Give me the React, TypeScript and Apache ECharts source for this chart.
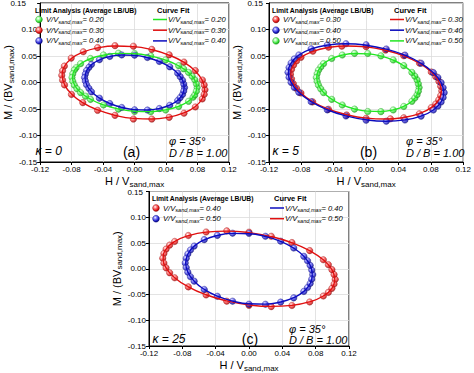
import React, { useEffect, useRef } from "react";
import * as echarts from "echarts";

const FONT = "Arial, 'Liberation Sans', sans-serif";

const X_TICKS = [-0.12, -0.08, -0.04, 0, 0.04, 0.08, 0.12];
const Y_TICKS = [-0.15, -0.1, -0.05, 0, 0.05, 0.1, 0.15];

// ---------- data: panel (a) kappa = 0 ----------
const A_RED_PTS = [[0.0895,-0.0136],[0.0885,-0.0046],[0.0862,0.0048],[0.0772,0.0225],[0.0628,0.0385],[0.0440,0.0522],[0.0219,0.0625],[-0.0015,0.0685],[-0.0249,0.0695],[-0.0470,0.0658],[-0.0652,0.0580],[-0.0805,0.0460],[-0.0892,0.0310],[-0.0915,0.0222],[-0.0925,0.0136],[-0.0915,0.0046],[-0.0890,-0.0046],[-0.0802,-0.0225],[-0.0658,-0.0380],[-0.0470,-0.0525],[-0.0249,-0.0620],[-0.0015,-0.0690],[0.0219,-0.0690],[0.0440,-0.0658],[0.0628,-0.0580],[0.0772,-0.0462],[0.0860,-0.0310],[0.0885,-0.0224]];
const A_RED_FIT = [[0.089,-0.0136],[0.0859,0.0044],[0.0769,0.0221],[0.0625,0.0383],[0.0438,0.0518],[0.0219,0.0619],[-0.0015,0.0677],[-0.0249,0.0689],[-0.0468,0.0654],[-0.0655,0.0575],[-0.0799,0.0457],[-0.0889,0.0306],[-0.092,0.0136],[-0.0889,-0.0044],[-0.0799,-0.0221],[-0.0655,-0.0383],[-0.0468,-0.0518],[-0.0249,-0.0619],[-0.0015,-0.0677],[0.0219,-0.0689],[0.0438,-0.0654],[0.0625,-0.0575],[0.0769,-0.0457],[0.0859,-0.0306],[0.089,-0.0136]];
const A_GREEN_PTS = [[0.0795,-0.0095],[0.0785,-0.0023],[0.0765,0.0050],[0.0732,0.0118],[0.0686,0.0190],[0.0623,0.0258],[0.0560,0.0318],[0.0395,0.0425],[0.0205,0.0502],[0,0.0548],[-0.0205,0.0552],[-0.0395,0.0520],[-0.0560,0.0452],[-0.0686,0.0355],[-0.0743,0.0278],[-0.0765,0.0235],[-0.0785,0.0165],[-0.0795,0.0095],[-0.0785,0.0023],[-0.0765,-0.0050],[-0.0732,-0.0118],[-0.0686,-0.0190],[-0.0623,-0.0258],[-0.0560,-0.0318],[-0.0395,-0.0425],[-0.0205,-0.0502],[0,-0.0548],[0.0205,-0.0552],[0.0395,-0.0520],[0.0560,-0.0452],[0.0686,-0.0355],[0.0743,-0.0278],[0.0765,-0.0235],[0.0785,-0.0165]];
const A_GREEN_FIT = [[0.079,-0.0095],[0.0763,0.0048],[0.0684,0.0189],[0.0559,0.0316],[0.0395,0.0422],[0.0205,0.0499],[0,0.0542],[-0.0205,0.0549],[-0.0395,0.0516],[-0.0559,0.045],[-0.0684,0.0353],[-0.0763,0.0232],[-0.079,0.0095],[-0.0763,-0.0048],[-0.0684,-0.0189],[-0.0559,-0.0316],[-0.0395,-0.0422],[-0.0205,-0.0499],[0,-0.0542],[0.0205,-0.0549],[0.0395,-0.0516],[0.0559,-0.045],[0.0684,-0.0353],[0.0763,-0.0232],[0.079,-0.0095]];
const A_BLUE_PTS = [[0.0635,-0.0095],[0.0625,-0.0028],[0.0610,0.0042],[0.0580,0.0110],[0.0548,0.0176],[0.0447,0.0296],[0.0315,0.0398],[0.0163,0.0472],[0,0.0515],[-0.0163,0.0520],[-0.0315,0.0492],[-0.0447,0.0430],[-0.0548,0.0340],[-0.0580,0.0285],[-0.0610,0.0225],[-0.0625,0.0160],[-0.0635,0.0095],[-0.0625,0.0028],[-0.0610,-0.0042],[-0.0580,-0.0110],[-0.0548,-0.0176],[-0.0447,-0.0296],[-0.0315,-0.0398],[-0.0163,-0.0472],[0,-0.0515],[0.0163,-0.0520],[0.0315,-0.0492],[0.0447,-0.0430],[0.0548,-0.0340],[0.0580,-0.0285],[0.0610,-0.0225],[0.0625,-0.0160]];
const A_BLUE_FIT = [[0.063,-0.0095],[0.0609,0.0041],[0.0546,0.0174],[0.0445,0.0294],[0.0315,0.0396],[0.0163,0.047],[0,0.0511],[-0.0163,0.0518],[-0.0315,0.049],[-0.0445,0.0428],[-0.0546,0.0338],[-0.0609,0.0223],[-0.063,0.0095],[-0.0609,-0.0041],[-0.0546,-0.0174],[-0.0445,-0.0294],[-0.0315,-0.0396],[-0.0163,-0.047],[0,-0.0511],[0.0163,-0.0518],[0.0315,-0.049],[0.0445,-0.0428],[0.0546,-0.0338],[0.0609,-0.0223],[0.063,-0.0095]];

// ---------- data: panel (b) kappa = 5 ----------
const B_RED_PTS = [[0.0935,-0.0158],[0.0922,-0.0070],[0.0900,0.0021],[0.0860,0.0110],[0.0805,0.0199],[0.0660,0.0365],[0.0465,0.0505],[0.0241,0.0612],[0,0.0676],[-0.0300,0.0685],[-0.0465,0.0665],[-0.0658,0.0590],[-0.0805,0.0475],[-0.0860,0.0405],[-0.0898,0.0327],[-0.0922,0.0245],[-0.0935,0.0158],[-0.0922,0.0070],[-0.0900,-0.0021],[-0.0860,-0.0110],[-0.0805,-0.0199],[-0.0660,-0.0365],[-0.0465,-0.0505],[-0.0241,-0.0612],[0,-0.0676],[0.0300,-0.0685],[0.0465,-0.0665],[0.0658,-0.0590],[0.0805,-0.0475],[0.0860,-0.0405],[0.0898,-0.0327],[0.0922,-0.0245]];
const B_RED_FIT = [[0.093,-0.0158],[0.0898,0.0021],[0.0805,0.0199],[0.0658,0.0363],[0.0465,0.0503],[0.0241,0.0608],[0,0.0672],[-0.0241,0.069],[-0.0465,0.0661],[-0.0658,0.0587],[-0.0805,0.0473],[-0.0898,0.0327],[-0.093,0.0158],[-0.0898,-0.0021],[-0.0805,-0.0199],[-0.0658,-0.0363],[-0.0465,-0.0503],[-0.0241,-0.0608],[0,-0.0672],[0.0241,-0.069],[0.0465,-0.0661],[0.0658,-0.0587],[0.0805,-0.0473],[0.0898,-0.0327],[0.093,-0.0158]];
const B_BLUE_PTS = [[0.0965,-0.0192],[0.0952,-0.0098],[0.0927,-0.0003],[0.0887,0.0095],[0.0831,0.0186],[0.0679,0.0364],[0.0480,0.0516],[0.0249,0.0632],[0,0.0712],[-0.0249,0.0732],[-0.0480,0.0708],[-0.0679,0.0636],[-0.0831,0.0520],[-0.0887,0.0445],[-0.0927,0.0367],[-0.0952,0.0282],[-0.0965,0.0192],[-0.0952,0.0098],[-0.0927,0.0003],[-0.0887,-0.0095],[-0.0831,-0.0186],[-0.0679,-0.0364],[-0.0480,-0.0516],[-0.0249,-0.0632],[0,-0.0712],[0.0249,-0.0732],[0.0480,-0.0708],[0.0679,-0.0636],[0.0831,-0.0520],[0.0887,-0.0445],[0.0927,-0.0367],[0.0952,-0.0282]];
const B_BLUE_FIT = [[0.096,-0.0192],[0.0927,-0.0003],[0.0831,0.0186],[0.0679,0.0362],[0.048,0.0514],[0.0249,0.063],[0,0.0704],[-0.0249,0.073],[-0.048,0.0706],[-0.0679,0.0634],[-0.0831,0.0518],[-0.0927,0.0367],[-0.096,0.0192],[-0.0927,0.0003],[-0.0831,-0.0186],[-0.0679,-0.0362],[-0.048,-0.0514],[-0.0249,-0.063],[0,-0.0704],[0.0249,-0.073],[0.048,-0.0706],[0.0679,-0.0634],[0.0831,-0.0518],[0.0927,-0.0367],[0.096,-0.0192]];
const B_GREEN_PTS = [[0.0655,-0.0095],[0.0645,-0.0023],[0.0630,0.0049],[0.0602,0.0120],[0.0566,0.0190],[0.0465,0.0318],[0.0335,0.0425],[0.0183,0.0502],[0.002,0.0548],[-0.0143,0.0550],[-0.0295,0.0518],[-0.0425,0.0452],[-0.0526,0.0355],[-0.0560,0.0293],[-0.0589,0.0231],[-0.0605,0.0165],[-0.0615,0.0095],[-0.0605,0.0023],[-0.0589,-0.0049],[-0.0560,-0.0120],[-0.0526,-0.0190],[-0.0425,-0.0318],[-0.0295,-0.0425],[-0.0143,-0.0502],[0.002,-0.0548],[0.0183,-0.0550],[0.0335,-0.0518],[0.0465,-0.0452],[0.0566,-0.0355],[0.0602,-0.0293],[0.0630,-0.0231],[0.0645,-0.0165]];
const B_GREEN_FIT = [[0.065,-0.0095],[0.0629,0.0049],[0.0566,0.0189],[0.0465,0.0316],[0.0335,0.0422],[0.0183,0.0499],[0.002,0.0541],[-0.0143,0.0547],[-0.0295,0.0516],[-0.0425,0.045],[-0.0526,0.0353],[-0.0589,0.0231],[-0.061,0.0095],[-0.0589,-0.0049],[-0.0526,-0.0189],[-0.0425,-0.0316],[-0.0295,-0.0422],[-0.0143,-0.0499],[0.002,-0.0541],[0.0183,-0.0547],[0.0335,-0.0516],[0.0465,-0.045],[0.0566,-0.0353],[0.0629,-0.0231],[0.065,-0.0095]];

// ---------- data: panel (c) kappa = 25 ----------
const C_RED_PTS = [[0.1035,-0.0206],[0.1021,-0.0112],[0.0995,-0.0017],[0.0952,0.0079],[0.0892,0.0175],[0.0728,0.0352],[0.0515,0.0508],[0.0267,0.0630],[0,0.0710],[-0.0267,0.0735],[-0.0515,0.0713],[-0.0728,0.0645],[-0.0892,0.0530],[-0.0952,0.0459],[-0.0995,0.0381],[-0.1021,0.0296],[-0.1035,0.0206],[-0.1021,0.0112],[-0.0995,0.0017],[-0.0952,-0.0079],[-0.0892,-0.0175],[-0.0728,-0.0352],[-0.0515,-0.0508],[-0.0267,-0.0630],[0,-0.0710],[0.0267,-0.0735],[0.0515,-0.0713],[0.0728,-0.0645],[0.0892,-0.0530],[0.0952,-0.0459],[0.0995,-0.0381],[0.1021,-0.0296]];
const C_RED_FIT = [[0.103,-0.0206],[0.0995,-0.0017],[0.0892,0.0173],[0.0728,0.035],[0.0515,0.0505],[0.0267,0.0625],[0,0.0702],[-0.0267,0.0731],[-0.0515,0.0711],[-0.0728,0.0642],[-0.0892,0.0529],[-0.0995,0.0381],[-0.103,0.0206],[-0.0995,0.0017],[-0.0892,-0.0173],[-0.0728,-0.035],[-0.0515,-0.0505],[-0.0267,-0.0625],[0,-0.0702],[0.0267,-0.0731],[0.0515,-0.0711],[0.0728,-0.0642],[0.0892,-0.0529],[0.0995,-0.0381],[0.103,-0.0206]];
const C_BLUE_PTS = [[0.0765,-0.0114],[0.0753,-0.0024],[0.0734,0.0066],[0.0702,0.0155],[0.0658,0.0241],[0.0537,0.0402],[0.0380,0.0535],[0.0197,0.0630],[0,0.0688],[-0.0197,0.0690],[-0.0380,0.0648],[-0.0537,0.0565],[-0.0658,0.0440],[-0.0702,0.0365],[-0.0734,0.0286],[-0.0753,0.0202],[-0.0765,0.0114],[-0.0753,0.0024],[-0.0734,-0.0066],[-0.0702,-0.0155],[-0.0658,-0.0241],[-0.0537,-0.0402],[-0.0380,-0.0535],[-0.0197,-0.0630],[0,-0.0688],[0.0197,-0.0690],[0.0380,-0.0648],[0.0537,-0.0565],[0.0658,-0.0440],[0.0702,-0.0365],[0.0734,-0.0286],[0.0753,-0.0202]];
const C_BLUE_FIT = [[0.076,-0.0114],[0.0734,0.0066],[0.0658,0.0241],[0.0537,0.04],[0.038,0.0532],[0.0197,0.0627],[0,0.068],[-0.0197,0.0687],[-0.038,0.0646],[-0.0537,0.0562],[-0.0658,0.0439],[-0.0734,0.0286],[-0.076,0.0114],[-0.0734,-0.0066],[-0.0658,-0.0241],[-0.0537,-0.04],[-0.038,-0.0532],[-0.0197,-0.0627],[0,-0.068],[0.0197,-0.0687],[0.038,-0.0646],[0.0537,-0.0562],[0.0658,-0.0439],[0.0734,-0.0286],[0.076,-0.0114]];

// legend labels (V/Vsand,max values)
const A_LA_LABELS = ["0.20", "0.30", "0.40"];
const A_CF_LABELS = ["0.20", "0.30", "0.40"];
const B_LA_LABELS = ["0.30", "0.40", "0.50"];
const B_CF_LABELS = ["0.30", "0.40", "0.50"];
const C_LA_LABELS = ["0.40", "0.50"];
const C_CF_LABELS = ["0.40", "0.50"];
const KAPPA = ["0", "5", "25"];
const TAGS = ["(a)", "(b)", "(c)"];

const COL = {
  red: { base: "#e21b1b", light: "#ff8a8a", dark: "#8a0000", line: "#e01010" },
  green: { base: "#35dd35", light: "#b0ffb0", dark: "#139013", line: "#22e622" },
  blue: { base: "#2020c8", light: "#8a8aff", dark: "#000070", line: "#0c0cbe" },
};
type CK = keyof typeof COL;

const PANELS = [
  { left: 32, top: 3, width: 197, height: 159 },
  { left: 269, top: 3, width: 197, height: 159 },
  { left: 149, top: 191.5, width: 200, height: 158 },
];

const PANEL_SERIES: { pts: number[][]; fit: number[][]; c: CK }[][] = [
  [
    { pts: A_GREEN_PTS, fit: A_GREEN_FIT, c: "green" },
    { pts: A_RED_PTS, fit: A_RED_FIT, c: "red" },
    { pts: A_BLUE_PTS, fit: A_BLUE_FIT, c: "blue" },
  ],
  [
    { pts: B_RED_PTS, fit: B_RED_FIT, c: "red" },
    { pts: B_BLUE_PTS, fit: B_BLUE_FIT, c: "blue" },
    { pts: B_GREEN_PTS, fit: B_GREEN_FIT, c: "green" },
  ],
  [
    { pts: C_RED_PTS, fit: C_RED_FIT, c: "red" },
    { pts: C_BLUE_PTS, fit: C_BLUE_FIT, c: "blue" },
  ],
];

const LEGENDS: { la: string[]; laC: CK[]; cf: string[]; cfC: CK[] }[] = [
  { la: A_LA_LABELS, laC: ["green", "red", "blue"], cf: A_CF_LABELS, cfC: ["green", "red", "blue"] },
  { la: B_LA_LABELS, laC: ["red", "blue", "green"], cf: B_CF_LABELS, cfC: ["red", "blue", "green"] },
  { la: C_LA_LABELS, laC: ["red", "blue"], cf: C_CF_LABELS, cfC: ["blue", "red"] },
];

function ball(c: CK) {
  const k = COL[c];
  return new echarts.graphic.RadialGradient(0.38, 0.34, 0.7, [
    { offset: 0, color: "#ffffff" },
    { offset: 0.28, color: k.light },
    { offset: 0.7, color: k.base },
    { offset: 1, color: k.dark },
  ]);
}

export default function App() {
  const ref = useRef<HTMLDivElement>(null);
  useEffect(() => {
    if (!ref.current) return;
    const chart = echarts.init(ref.current, null, { renderer: "svg" });
    const grid = PANELS.map((p) => ({
      left: p.left, top: p.top, width: p.width, height: p.height,
      show: true, borderColor: "#000", borderWidth: 1, backgroundColor: "#fff", containLabel: false,
    }));
    const subRich = { s: { fontSize: 8, fontFamily: FONT, color: "#000", verticalAlign: "bottom", lineHeight: 9 } };
    const fmt = (v: number) => (Math.abs(v) < 1e-9 ? 0 : v).toFixed(2);
    const yMax = Y_TICKS[Y_TICKS.length - 1];
    const xAxis = PANELS.map((_, i) => ({
      type: "value", gridIndex: i, min: -0.12, max: 0.12, interval: 0.04,
      name: "H / V{s|sand,max}", nameLocation: "middle", nameGap: 12,
      nameTextStyle: { fontSize: 11, fontFamily: FONT, color: "#000", lineHeight: 14, rich: subRich },
      axisLine: { show: true, onZero: false, lineStyle: { color: "#000", width: 1 } },
      axisTick: { show: true, inside: false, length: 3, customValues: X_TICKS, lineStyle: { color: "#000", width: 1 } },
      axisLabel: { fontSize: 8, fontFamily: FONT, color: "#000", margin: 3, customValues: X_TICKS, formatter: fmt },
      splitLine: { show: true, lineStyle: { color: "#dcdcdc", width: 0.8 } },
    }));
    const yAxis = PANELS.map((_, i) => ({
      type: "value", gridIndex: i, min: -0.15, max: yMax, interval: 0.05,
      name: "M / (BV{s|sand,max})", nameLocation: "middle", nameGap: 21,
      nameTextStyle: { fontSize: 11, fontFamily: FONT, color: "#000", lineHeight: 14, rich: subRich },
      axisLine: { show: true, onZero: false, lineStyle: { color: "#000", width: 1 } },
      axisTick: { show: true, inside: false, length: 3, customValues: Y_TICKS, lineStyle: { color: "#000", width: 1 } },
      axisLabel: { fontSize: 8, fontFamily: FONT, color: "#000", margin: 3, customValues: Y_TICKS.slice(0, -1), formatter: fmt },
      splitLine: { show: true, lineStyle: { color: "#dcdcdc", width: 0.8 } },
    }));
    const series: any[] = [];
    PANEL_SERIES.forEach((list, gi) => {
      list.forEach((s) => {
        series.push({
          type: "scatter", xAxisIndex: gi, yAxisIndex: gi, data: s.pts, symbol: "circle", symbolSize: 6.5, z: 2,
          itemStyle: { color: ball(s.c), borderColor: COL[s.c].dark, borderWidth: 0.4 },
        });
      });
      list.forEach((s) => {
        series.push({
          type: "line", xAxisIndex: gi, yAxisIndex: gi, data: s.fit, showSymbol: false, smooth: true, z: 3,
          lineStyle: { color: COL[s.c].line, width: 1.4 },
        });
      });
    });

    const graphic: any[] = [];
    const rowRich = {
      m: { fontSize: 7.6, fontStyle: "italic", fontFamily: FONT, fill: "#000", lineHeight: 10 },
      s: { fontSize: 5.6, fontStyle: "italic", fontFamily: FONT, fill: "#000", verticalAlign: "bottom", lineHeight: 6 },
    } as any;
    PANELS.forEach((p, i) => {
      const L = p.left, T = p.top, R = p.left + p.width, B = p.top + p.height;
      const lg = LEGENDS[i];
      // top tick label of the y axis (hidden by the library at the axis end)
      graphic.push({ type: "text", x: L - 6, y: T + 0.5, z: 10, style: { text: fmt(yMax), fontSize: 8, fontFamily: FONT, fill: "#000", align: "right", verticalAlign: "middle" } });
      graphic.push({ type: "text", x: L + 3, y: T + 7, z: 10, style: { text: "Limit Analysis (Average LB/UB)", fontSize: 6.8, fontWeight: "bold", fontFamily: FONT, fill: "#000", verticalAlign: "middle" } });
      graphic.push({ type: "text", x: L + 125, y: T + 7, z: 10, style: { text: "Curve Fit", fontSize: 7.5, fontWeight: "bold", fontFamily: FONT, fill: "#000", verticalAlign: "middle" } });
      lg.la.forEach((lab, r) => {
        const y = T + 16.5 + r * 10.7;
        graphic.push({ type: "circle", z: 10, shape: { cx: L + 7, cy: y, r: 3.4 }, style: { fill: ball(lg.laC[r]), stroke: COL[lg.laC[r]].dark, lineWidth: 0.4 } });
        graphic.push({ type: "text", x: L + 14, y, z: 10, style: { text: "{m|V/V}{s|sand,max}{m|= " + lab + "}", rich: rowRich, verticalAlign: "middle" } });
      });
      lg.cf.forEach((lab, r) => {
        const y = T + 16.5 + r * 10.7;
        graphic.push({ type: "line", z: 10, shape: { x1: L + 121, y1: y, x2: L + 135, y2: y }, style: { stroke: COL[lg.cfC[r]].line, lineWidth: 1.5 } });
        graphic.push({ type: "text", x: L + 136, y, z: 10, style: { text: "{m|V/V}{s|sand,max}{m|= " + lab + "}", rich: rowRich, verticalAlign: "middle" } });
      });
      graphic.push({ type: "text", x: L + 3.5, y: B - 11, z: 10, style: { text: "κ = " + KAPPA[i], fontSize: 12, fontStyle: "italic", fontFamily: FONT, fill: "#000", verticalAlign: "middle" } });
      graphic.push({ type: "text", x: (L + R) / 2 + 1, y: B - 10.5, z: 10, style: { text: TAGS[i], fontSize: 14, fontFamily: FONT, fill: "#000", align: "center", verticalAlign: "middle" } });
      graphic.push({ type: "text", x: R - 60, y: B - 21, z: 10, style: { text: "φ = 35°", fontSize: 11, fontStyle: "italic", fontFamily: FONT, fill: "#000", verticalAlign: "middle" } });
      graphic.push({ type: "text", x: R - 60, y: B - 9.5, z: 10, style: { text: "D / B = 1.00", fontSize: 11, fontStyle: "italic", fontFamily: FONT, fill: "#000", verticalAlign: "middle" } });
    });

    chart.setOption({
      animation: false,
      backgroundColor: "#fff",
      grid, xAxis, yAxis, series, graphic,
    } as any);
    return () => chart.dispose();
  }, []);
  return <div ref={ref} style={{ position: "fixed", left: 0, top: 0, width: 474, height: 373 }} />;
}
